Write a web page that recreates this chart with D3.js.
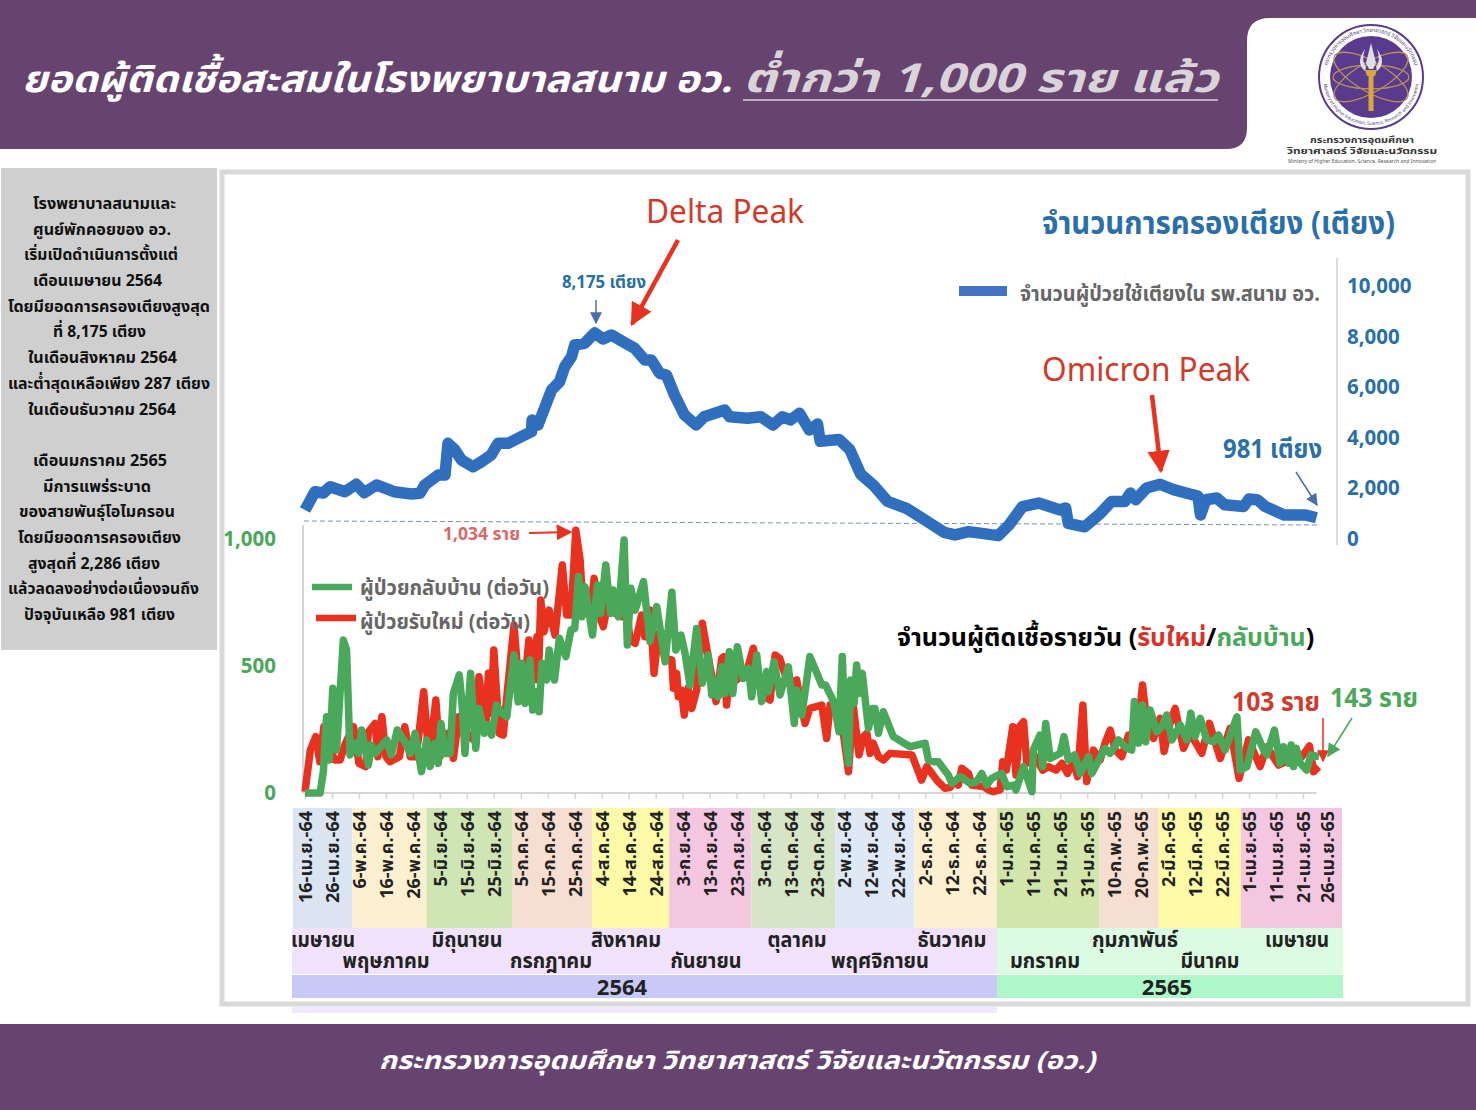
<!DOCTYPE html>
<html>
<head>
<meta charset="utf-8">
<script src="https://cdn.jsdelivr.net/npm/d3@7"></script>
<style>
    body { margin: 0; background: #fff; }
    text { font-family: "Noto Sans Thai", "Noto Sans", "Liberation Sans", "DejaVu Sans", sans-serif; }
</style>
</head>
<body>
<div id="chart"></div>
<script>
// occupied beds, x is days since 16 Apr 2564
const bedDays = [0,3.7,6.8,9.3,14.8,19,22,26.5,33,39.5,42.6,44.4,49.4,51.9,53,55.6,58,62.3,65.4,69,71.6,75.3,80.2,84,84.2,86.4,91.4,94.4,96.3,98.8,100,103.7,107.4,110.5,113.6,117.9,122.2,126,128.4,131.5,134,137,140.7,145,148,155.6,157.4,164,169,173.5,177,180,183.3,187,190,191,198,202,206,211,216,223,230,237,241,246,251,257,261,266,272,280,282,283,289,295,299,304,306,308,312,317,322,329,331,332,334,338,341,348,350,353,356,363,371,375];
const bedCounts = [1284,1996,1945,2191,1996,2284,1957,2257,1996,1907,1934,2257,2646,2646,3879,3618,3230,2969,3163,3424,3879,3879,4136,4331,4786,4591,5953,6276,6860,7249,7704,7770,8175,7938,8093,7833,7576,7121,7121,6603,6537,5759,4980,4591,4914,5175,4914,4852,4914,4591,4914,4786,5047,4397,4630,3956,4030,3630,2680,2220,1620,1350,885,415,316,442,375,287,700,1420,1556,1284,1362,763,630,1167,1619,1619,1945,1685,2140,2286,2078,1879,1829,1090,1685,1751,1486,1420,1712,1685,1420,1090,1090,981];

// new patients per day
const newDays = [0,2,4,5.5,7,9,11,13,15,18,20,22.5,23.5,26,27,28.5,30,31.5,35,37,39,41,42,44,46,48.5,50,53,55,57,60,62.5,64.5,67,68,69,70,72,73.5,75,77.5,79,81,83,84,86,86.5,87.4,88.6,90.5,92.7,95.4,97,98.6,100.4,102,103.2,105.7,107.2,108.8,110.6,112.5,115,117.4,119.3,120.5,122.4,124.8,126,128,129.4,131,133.5,136,136.6,137.8,138.4,139.6,140.6,142,143.4,145.2,147.3,149.5,150.8,152.4,154.5,155.3,156.3,157.6,160,163.8,166.2,168,170.5,172.4,174.3,176,177.4,179.2,182.3,183.5,185.4,187.2,191.6,193.4,194.7,198.4,201.5,203.3,205.4,207,208.3,209.5,210.7,212.6,214.4,216.9,225,228.6,230.5,234.2,237.3,239.2,240.4,242.2,243.5,246,247.2,251.5,254,255.2,257.7,258.7,260,262.4,263.6,264.9,266.4,267.6,268.8,270,273.5,275.6,278.5,280.6,282.7,285,286.4,288.4,289.8,292.3,294.8,296.6,298.5,300.4,302.8,305.3,308.4,310.5,312,314.6,317,318.5,320.7,322.6,325.7,328.2,332.5,335.3,339.3,343,346.3,349.8,354.1,356.6,360.9,365.2,369.6,372.4,373.9,375.8];
const newCases = [5,170,222,123,261,182,130,130,196,261,117,104,241,274,143,300,143,123,143,261,143,143,209,399,130,366,143,235,136,300,235,209,458,261,471,314,563,235,228,399,661,458,379,602,432,615,445,760,635,720,622,898,701,701,1034,917,707,707,845,707,655,760,707,694,720,602,589,701,615,720,471,628,530,524,412,471,379,405,307,412,333,405,668,537,458,360,530,537,346,497,445,478,570,458,379,366,543,530,484,432,445,366,274,333,346,215,346,327,84,340,150,222,235,156,196,143,130,156,150,51,104,51,18,22,45,31,97,77,31,25,9,5,12,123,90,261,71,261,281,117,150,156,90,104,90,117,77,130,64,346,45,169,130,196,248,169,143,228,209,425,287,215,294,163,274,333,176,235,156,274,136,255,58,209,104,182,110,130,143,185,84,103];

// discharged patients per day
const homeDays = [0,5.6,6.8,8,9,10.3,11.7,14.2,15.4,16.7,18.5,19.8,21,23.5,24.5,26,30.3,32,34.2,37,39,40.8,43.2,45.1,46.4,48.2,49.4,50.4,52,53.8,55,57.2,58.3,59.3,61.4,63.3,64.5,66.5,67.4,69.2,71,73,74.8,77.5,79,80.3,81.6,83.4,84.4,85.7,86.8,87.8,89.6,90.5,92.5,94.3,96.7,98.6,100,101.4,102.6,103.8,106.6,108.4,109.6,111.5,113.3,114.3,116.2,118.3,119.5,120.8,122.4,125.5,127.9,130.4,133.5,136,137.5,139.4,140.9,142.7,145.2,147.3,149.5,150.8,152,153.2,154.5,155.7,157.3,158.6,160.3,162.5,164.4,165.6,167.5,169.3,171.2,171.8,173.9,176.1,179.2,181.4,182.3,184.2,187.2,191.6,193,196,198,199.2,200.2,201.5,202.3,203.6,204.5,205.4,206.6,208.9,210.5,211.3,212.6,214.4,218.1,224.3,229.9,231.1,233,234.8,238.5,239.8,242.9,246.6,249,250.9,252.8,254.6,258.3,260.2,262.7,263.6,266.4,269.5,270,272.5,273.5,274.6,276.3,280,281.4,283,285.3,287.4,290.5,291.7,296.6,298.5,301.6,304.7,306.5,307.5,309,310.5,311.7,313.3,315.8,317.7,319.5,321.4,324.5,326.9,328.4,330,331.9,334.3,336.8,338.7,341.1,345.5,346.7,349.2,352.5,355.4,356.6,359.4,361.5,362.8,364.6,365.6,366.5,367.5,369,371.4,372.9,376];
const homeCases = [0,0,84,300,130,412,169,602,563,150,196,156,248,110,189,156,209,150,248,202,156,235,84,209,104,196,117,274,156,156,392,465,340,156,471,176,333,235,268,228,346,314,300,543,359,511,353,524,327,399,320,511,445,563,445,609,537,642,648,852,694,812,622,819,707,898,707,799,694,996,583,806,720,832,596,734,517,790,563,622,550,425,648,432,543,386,445,379,497,392,556,392,576,451,491,379,543,360,478,399,517,386,497,274,405,307,537,425,425,360,241,537,241,117,445,353,504,392,471,255,333,333,235,320,222,182,196,130,123,123,71,38,64,38,45,77,31,58,77,25,31,12,104,5,169,228,104,274,136,156,222,130,150,77,143,77,176,156,209,176,169,360,196,346,202,327,241,261,307,209,268,209,314,222,294,209,202,228,169,300,90,104,241,169,150,248,117,182,117,189,104,176,117,90,150,143];

const tickDays = d3.range(0, 371, 10).concat([375]);
const tickLabels = ["16-เม.ย.-64","26-เม.ย.-64","6-พ.ค.-64","16-พ.ค.-64","26-พ.ค.-64","5-มิ.ย.-64","15-มิ.ย.-64","25-มิ.ย.-64","5-ก.ค.-64","15-ก.ค.-64","25-ก.ค.-64","4-ส.ค.-64","14-ส.ค.-64","24-ส.ค.-64","3-ก.ย.-64","13-ก.ย.-64","23-ก.ย.-64","3-ต.ค.-64","13-ต.ค.-64","23-ต.ค.-64","2-พ.ย.-64","12-พ.ย.-64","22-พ.ย.-64","2-ธ.ค.-64","12-ธ.ค.-64","22-ธ.ค.-64","1-ม.ค.-65","11-ม.ค.-65","21-ม.ค.-65","31-ม.ค.-65","10-ก.พ.-65","20-ก.พ.-65","2-มี.ค.-65","12-มี.ค.-65","22-มี.ค.-65","1-เม.ย.-65","11-เม.ย.-65","21-เม.ย.-65","26-เม.ย.-65"];

// colour band behind the date labels, edges in days
const monthEdges = [-4.5,17.5,45,77,106.5,135,165.5,196.5,226,256.5,294.5,316.5,347,384.5];
const monthColors = ["#dbe5f1","#fdf0d0","#cfe5b4","#f6ded0","#fefba8","#f3c7e0","#d5e5c5","#dfe9f6","#fdf0d0","#d2e5ab","#f6ded0","#fefba8","#f3c7e0"];
const monthNames = ["เมษายน","พฤษภาคม","มิถุนายน","กรกฎาคม","สิงหาคม","กันยายน","ตุลาคม","พฤศจิกายน","ธันวาคม","มกราคม","กุมภาพันธ์","มีนาคม","เมษายน"];
const monthNameX = [323,386,467,551,626,706,797,880,952,1045,1135,1210,1297];
const monthNameW = [64,87,71,82,70,71,59,98,69,70,86,59,64];
const monthNameRow = [0,1,0,1,0,1,0,1,0,1,0,1,0];

const sideText = ["โรงพยาบาลสนามและ","ศูนย์พักคอยของ อว.","เริ่มเปิดดำเนินการตั้งแต่","เดือนเมษายน 2564","โดยมียอดการครองเตียงสูงสุด","ที่ 8,175 เตียง","ในเดือนสิงหาคม 2564","และต่ำสุดเหลือเพียง 287 เตียง","ในเดือนธันวาคม 2564","","เดือนมกราคม 2565","มีการแพร่ระบาด","ของสายพันธุ์โอไมครอน","โดยมียอดการครองเตียง","สูงสุดที่ 2,286 เตียง","แล้วลดลงอย่างต่อเนื่องจนถึง","ปัจจุบันเหลือ 981 เตียง"];
const sideLeft = [33,33,24,33,8,53,28,8,28,0,33,43,19,18,28,8,24];
const sideRight = [176,171,178,162,210,146,177,210,176,0,167,151,175,181,160,199,175];

const BLUE = "#2f6fbd", GREEN = "#49a85a", RED = "#e8321f";

const svg = d3.select("#chart").append("svg")
    .attr("width", 1476).attr("height", 1110)
    .style("display", "block");

// arrow heads, one per colour
function arrowHead(id, color, size) {
    svg.append("defs").append("marker")
        .attr("id", id)
        .attr("viewBox", "0 0 10 10").attr("refX", 9).attr("refY", 5)
        .attr("markerWidth", size).attr("markerHeight", size)
        .attr("orient", "auto")
        .append("path").attr("d", "M0,0L10,5L0,10Z").attr("fill", color);
}
arrowHead("headRed", RED, 5);
arrowHead("headRedThin", RED, 8);
arrowHead("headBlue", "#4b6cad", 8);
arrowHead("headGreen", GREEN, 9);
function arrow(x1, y1, x2, y2, color, id, w) {
    svg.append("line")
        .attr("x1", x1).attr("y1", y1).attr("x2", x2).attr("y2", y2)
        .attr("stroke", color).attr("stroke-width", w)
        .attr("marker-end", `url(#${id})`);
}
// width squeezes or stretches the text to the size it has in the picture
function label(x, y, str, size, color, anchor, width) {
    const t = svg.append("text")
        .attr("x", x).attr("y", y)
        .attr("text-anchor", anchor || "start")
        .attr("font-size", size).attr("font-weight", 700)
        .attr("fill", color)
        .text(str);
    if (width) t.attr("textLength", width).attr("lengthAdjust", "spacingAndGlyphs");
    return t;
}

// header and footer
svg.append("rect").attr("width", 1476).attr("height", 149).attr("fill", "#67446f");
svg.append("rect").attr("y", 1024).attr("width", 1476).attr("height", 86).attr("fill", "#67446f");
svg.append("path").attr("d", "M1476,18H1270Q1247,18 1247,41V128Q1247,149 1226,149H1476Z").attr("fill", "#fff");

label(22, 92, "ยอดผู้ติดเชื้อสะสมในโรงพยาบาลสนาม อว.", 37, "#fff", "start", 710).attr("font-style", "italic");
label(743, 92, "ต่ำกว่า 1,000 ราย แล้ว", 40, "#d8d4d8", "start", 475).attr("font-style", "italic");
svg.append("line").attr("x1", 743).attr("x2", 1218).attr("y1", 100).attr("y2", 100)
    .attr("stroke", "#d8d4d8").attr("stroke-width", 1.5);
label(379, 1069, "กระทรวงการอุดมศึกษา วิทยาศาสตร์ วิจัยและนวัตกรรม (อว.)", 25, "#fff", "start", 716)
    .attr("font-style", "italic");

// logo
const logo = svg.append("g").attr("transform", "translate(1371,77)");
logo.append("circle").attr("r", 52).attr("fill", "#fff").attr("stroke", "#5a3a8c").attr("stroke-width", 2);
logo.append("circle").attr("r", 41).attr("fill", "#5a3a8c");
[-30, 30].forEach(a => logo.append("ellipse")
    .attr("rx", 42).attr("ry", 15).attr("transform", `rotate(${a})`)
    .attr("fill", "none").attr("stroke", "#b9925a").attr("stroke-width", 1.3));
logo.append("ellipse").attr("rx", 38).attr("ry", 12).attr("fill", "none").attr("stroke", "#b9925a").attr("stroke-width", 1.3);
logo.append("path").attr("d", "M0,-34L5,-14L2,-8H-2L-5,-14Z").attr("fill", "#dfe0e6");
logo.append("path").attr("d", "M-6,-28Q-16,-14 -6,-6L-5,-10Q-10,-16 -6,-28Z M6,-28Q16,-14 6,-6L5,-10Q10,-16 6,-28Z").attr("fill", "#dfe0e6");
logo.append("path").attr("d", "M-6,-7H6L4,-1H2.5V34H-2.5V-1H-4Z").attr("fill", "#d8a83e");
logo.append("path").attr("id", "ringTop").attr("fill", "none").attr("d", "M-45,0A45,45 0 0 1 45,0");
logo.append("path").attr("id", "ringBottom").attr("fill", "none").attr("d", "M-48,0A48,48 0 0 0 48,0");
logo.append("text").attr("font-size", 5.5).attr("fill", "#4a3a70")
    .append("textPath").attr("href", "#ringTop").attr("startOffset", "50%").attr("text-anchor", "middle")
    .text("กระทรวงการอุดมศึกษา วิทยาศาสตร์ วิจัยและนวัตกรรม");
logo.append("text").attr("font-size", 4.6).attr("fill", "#4a3a70")
    .append("textPath").attr("href", "#ringBottom").attr("startOffset", "50%").attr("text-anchor", "middle")
    .text("Ministry of Higher Education, Science, Research and Innovation");
label(1362, 143, "กระทรวงการอุดมศึกษา", 9, "#333", "middle", 104);
label(1362, 154, "วิทยาศาสตร์ วิจัยและนวัตกรรม", 9, "#333", "middle", 150);
label(1362, 163, "Ministry of Higher Education, Science, Research and Innovation", 5, "#555", "middle", 148).attr("font-weight", 400);

// side panel
svg.append("rect").attr("x", 1).attr("y", 168).attr("width", 216).attr("height", 482).attr("fill", "#d0cfd0");
const sideY = d3.scaleLinear().domain([0, 16]).range([209, 620]);
sideText.forEach((t, i) => {
    if (t) label(sideLeft[i], sideY(i), t, 16.5, "#111", "start", sideRight[i] - sideLeft[i]);
});

// frame
svg.append("rect").attr("x", 222).attr("y", 172).attr("width", 1246).attr("height", 832)
    .attr("fill", "#fff").attr("stroke", "#d9d9d9").attr("stroke-width", 5);

// scales
const x = d3.scaleLinear().domain([0, 370]).range([305, 1303]);
const yBeds = d3.scaleLinear().domain([0, 10000]).range([543, 286]);
// the tick labels of the bed axis sit a little off the line's own scale in the picture
const yBedLabels = d3.scaleLinear().domain([0, 10000]).range([539, 286]);
const yCases = d3.scaleLinear().domain([0, 1000]).range([793, 539]);

// month and year bands
monthColors.forEach((c, i) => svg.append("rect")
    .attr("x", x(monthEdges[i])).attr("width", x(monthEdges[i + 1]) - x(monthEdges[i]))
    .attr("y", 808).attr("height", 120).attr("fill", c));
svg.append("rect").attr("x", 292).attr("y", 928).attr("width", 705).attr("height", 46).attr("fill", "#efe2fa");
svg.append("rect").attr("x", 997).attr("y", 928).attr("width", 346).attr("height", 46).attr("fill", "#dcfbe3");
svg.append("rect").attr("x", 292).attr("y", 975).attr("width", 705).attr("height", 23).attr("fill", "#c8c9f7");
svg.append("rect").attr("x", 997).attr("y", 975).attr("width", 346).attr("height", 23).attr("fill", "#aef7c9");
svg.append("rect").attr("x", 292).attr("y", 1007).attr("width", 705).attr("height", 6).attr("fill", "#f1e6fb");
monthNames.forEach((m, i) => label(monthNameX[i], monthNameRow[i] ? 968 : 947, m, 20.5, "#222", "middle", monthNameW[i]));
label(622, 995, "2564", 22, "#222", "middle");
label(1167, 995, "2565", 22, "#222", "middle");

// x axis with short ticks, last label has no tick
const xAxis = d3.axisBottom(x)
    .tickValues(d3.range(0, 371, 10))
    .tickSize(6)
    .tickFormat("");
svg.append("g").attr("transform", "translate(0,793)").call(xAxis)
    .call(g => g.select(".domain").attr("stroke", "#d5d5d5").attr("stroke-width", 2).attr("d", `M303,0H${x(375)}`))
    .call(g => g.selectAll(".tick line").attr("stroke", "#d5d5d5").attr("stroke-width", 1.5));

// date labels, rotated
svg.append("g").selectAll("text").data(tickDays).join("text")
    .attr("transform", (d, i) => `translate(${x(d) + (i === 38 ? 11 : 0) + 7},811) rotate(-90)`)
    .attr("text-anchor", "end")
    .attr("font-size", 18).attr("font-weight", 700).attr("fill", "#222")
    .text((d, i) => tickLabels[i]);

// right axis (beds)
const bedAxis = d3.axisRight(yBedLabels).tickValues([0, 2000, 4000, 6000, 8000, 10000]).tickSize(0).tickFormat(d3.format(","));
svg.append("g").attr("transform", "translate(1337,0)").call(bedAxis)
    .call(g => g.select(".domain").attr("stroke", "#cfcfcf").attr("stroke-width", 1.5).attr("d", "M0,258V545"))
    .call(g => g.selectAll("text").attr("x", 10).attr("font-size", 20.5).attr("font-weight", 700).attr("fill", "#2a6fa8"));

// left axis (cases)
const caseAxis = d3.axisLeft(yCases).tickValues([0, 500, 1000]).tickSize(0).tickFormat(d3.format(","));
svg.append("g").attr("transform", "translate(303,0)").call(caseAxis)
    .call(g => g.select(".domain").attr("stroke", "#d5d5d5").attr("stroke-width", 2).attr("d", "M0,525V793"))
    .call(g => g.selectAll("text").attr("x", -27).attr("font-size", 20.5).attr("font-weight", 700).attr("fill", GREEN));

// dashed divider under the bed line
svg.append("line").attr("x1", 304).attr("y1", 521).attr("x2", 1320).attr("y2", 525)
    .attr("stroke", "#7d8fb5").attr("stroke-width", 1).attr("stroke-dasharray", "5,3");

// the three lines
function drawLine(days, vals, yScale, color, width) {
    const line = d3.line().x((d, i) => x(days[i])).y((d, i) => yScale(vals[i]));
    svg.append("path").datum(vals)
        .attr("d", line)
        .attr("fill", "none").attr("stroke", color).attr("stroke-width", width)
        .attr("stroke-linejoin", "round").attr("stroke-linecap", "butt");
}
drawLine(bedDays, bedCounts, yBeds, BLUE, 11.5);
drawLine(newDays, newCases, yCases, RED, 7.5);
drawLine(homeDays, homeCases, yCases, GREEN, 7.5);

// legends and annotations
label(1042, 234, "จำนวนการครองเตียง (เตียง)", 32, "#2a6fa8", "start", 353);
svg.append("line").attr("x1", 959).attr("x2", 1007).attr("y1", 291).attr("y2", 291).attr("stroke", "#4472c4").attr("stroke-width", 10);
label(1020, 301, "จำนวนผู้ป่วยใช้เตียงใน รพ.สนาม อว.", 21, "#666", "start", 300);
label(646, 223, "Delta Peak", 33, "#d13a2a", "start", 158).attr("font-weight", 400).attr("font-family", "Lato");
label(1042, 381, "Omicron Peak", 33, "#d13a2a", "start", 208).attr("font-weight", 400).attr("font-family", "Lato");
label(562, 288, "8,175 เตียง", 18, "#2a6fa8", "start", 84);
arrow(596, 300, 596, 323, "#4b6cad", "headBlue", 1.5);
arrow(678, 240, 632, 324, RED, "headRed", 4.5);
arrow(1152, 395, 1161, 471, RED, "headRed", 4.5);
label(1223, 458, "981 เตียง", 27, "#2a6fa8", "start", 99);
arrow(1296, 472, 1317, 505, "#4b6cad", "headBlue", 1.5);

svg.append("line").attr("x1", 312).attr("x2", 352).attr("y1", 587).attr("y2", 587).attr("stroke", GREEN).attr("stroke-width", 6.5);
svg.append("line").attr("x1", 316).attr("x2", 356).attr("y1", 618).attr("y2", 618).attr("stroke", RED).attr("stroke-width", 6.5);
label(360, 595, "ผู้ป่วยกลับบ้าน (ต่อวัน)", 21, "#666", "start", 189);
label(360, 629, "ผู้ป่วยรับใหม่ (ต่อวัน)", 21, "#666", "start", 170);
label(443, 540, "1,034 ราย", 17, "#d9686a", "start", 77);
arrow(529, 533, 571, 532, RED, "headRedThin", 2);

const dailyTitle = svg.append("text").attr("x", 897).attr("y", 646)
    .attr("font-size", 25).attr("font-weight", 700).attr("fill", "#000");
dailyTitle.append("tspan").text("จำนวนผู้ติดเชื้อรายวัน (");
dailyTitle.append("tspan").attr("fill", "#d9322a").text("รับใหม่");
dailyTitle.append("tspan").text("/");
dailyTitle.append("tspan").attr("fill", GREEN).text("กลับบ้าน");
dailyTitle.append("tspan").text(")");

label(1232, 711, "103 ราย", 27, "#d13a2a", "start", 88);
label(1330, 707, "143 ราย", 27, GREEN, "start", 88);
arrow(1323, 718, 1323, 761, RED, "headRedThin", 1.5);
arrow(1352, 718, 1328, 756, GREEN, "headGreen", 1.5);
</script>
</body>
</html>
